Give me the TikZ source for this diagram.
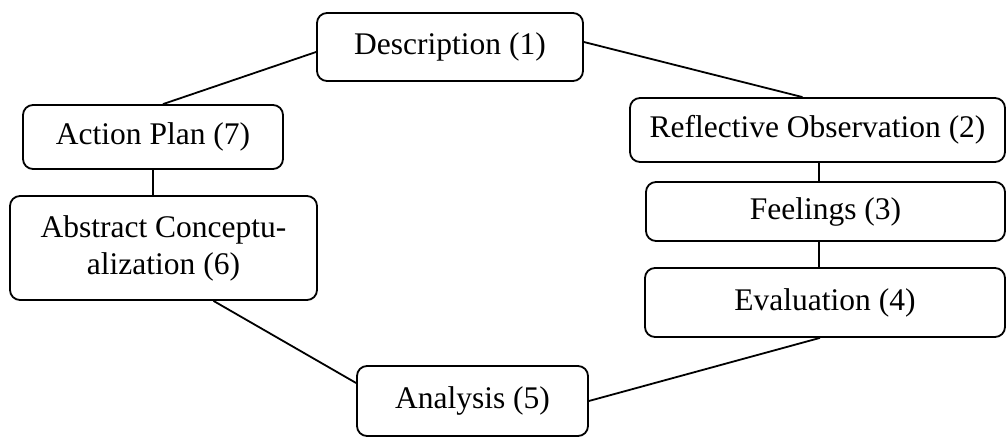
\documentclass[tikz,border=0pt]{standalone}
\usepackage{fontspec}
\setmainfont{Liberation Serif}
\begin{document}
\begin{tikzpicture}[x=1pt,y=1pt,
  box/.style={draw, line width=1.8pt, rounded corners=10pt, inner sep=0pt, align=center,
    font=\fontsize{31.5}{37}\selectfont},
  link/.style={line width=1.8pt}]
\useasboundingbox (0,0) rectangle (1007,439);
\node[box, minimum width=266, minimum height=68] (desc) at (450,392) {Description (1)};
\node[box, minimum width=375, minimum height=64] (refl) at (817.5,309) {Reflective Observation (2)};
\node[box, minimum width=359, minimum height=59] (feel) at (825.5,227.5) {Feelings (3)};
\node[box, minimum width=360, minimum height=69] (eval) at (825,136.5) {Evaluation (4)};
\node[box, minimum width=231, minimum height=70] (anal) at (472.5,38) {Analysis (5)};
\node[box, minimum width=307, minimum height=104] (abst) at (163.5,191) {Abstract Conceptu-\\alization (6)};
\node[box, minimum width=260, minimum height=64] (act) at (153,302) {Action Plan (7)};
\draw[link] ([yshift=-5pt]desc.west) -- ([xshift=10pt]act.north);
\draw[link] ([yshift=5pt]desc.east) -- ([xshift=-15pt]refl.north);
\draw[link] (act.south) -- (act.south |- abst.north);
\draw[link] ([xshift=1.5pt]refl.south) -- ([xshift=1.5pt]refl.south |- feel.north);
\draw[link] ([xshift=-6.5pt]feel.south) -- ([xshift=-6.5pt]feel.south |- eval.north);
\draw[link] ([xshift=50pt]abst.south) -- ([yshift=18pt]anal.west);
\draw[link] (anal.east) -- ([xshift=-5pt]eval.south);
\end{tikzpicture}
\end{document}
